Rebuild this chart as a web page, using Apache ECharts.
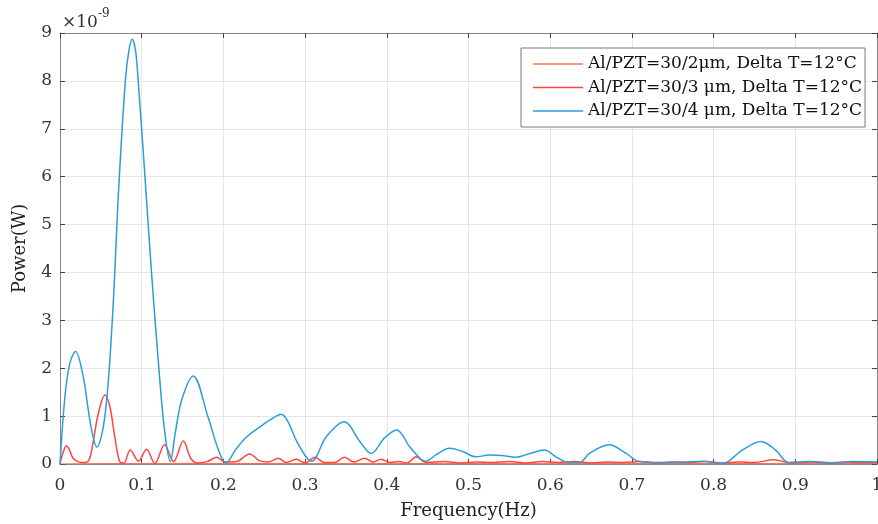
<!DOCTYPE html>
<html>
<head>
<meta charset="utf-8">
<script src="https://cdn.jsdelivr.net/npm/echarts@6/dist/echarts.min.js"></script>
<style>
html,body{margin:0;padding:0;background:#fff;}
#chart{width:878px;height:524px;}
</style>
</head>
<body>
<div id="chart"></div>
<script>
// ---- data (power in units of 1e-9 W) ----
const seriesNames = [
  'Al/PZT=30/2μm, Delta T=12°C',
  'Al/PZT=30/3 μm, Delta T=12°C',
  'Al/PZT=30/4 μm, Delta T=12°C'
];
const xTicks = [0, 0.1, 0.2, 0.3, 0.4, 0.5, 0.6, 0.7, 0.8, 0.9, 1];
const yTicks = [0, 1, 2, 3, 4, 5, 6, 7, 8, 9];

const freq2 = [0, 0.05, 0.1, 0.15, 0.2, 0.25, 0.3, 0.35, 0.4, 0.45, 0.5, 0.6, 0.7, 0.8, 0.9, 1.0];
const power2 = [0, 0.01, 0.008, 0.012, 0.006, 0.01, 0.008, 0.01, 0.006, 0.008, 0.006, 0.008, 0.006, 0.008, 0.006, 0.006];

const freq3 = [
  0, 0.004, 0.008, 0.012, 0.016, 0.022, 0.028, 0.033, 0.037, 0.041,
  0.047, 0.055, 0.061, 0.067, 0.073, 0.078, 0.086, 0.096, 0.106, 0.116,
  0.128, 0.139, 0.151, 0.16, 0.168, 0.18, 0.192, 0.202, 0.216, 0.232,
  0.244, 0.255, 0.267, 0.277, 0.289, 0.3, 0.312, 0.324, 0.336, 0.348,
  0.36, 0.373, 0.383, 0.393, 0.404, 0.415, 0.425, 0.436, 0.448, 0.47,
  0.49, 0.51, 0.53, 0.55, 0.57, 0.59, 0.61, 0.63, 0.65, 0.67,
  0.69, 0.71, 0.73, 0.75, 0.77, 0.79, 0.81, 0.83, 0.85, 0.874,
  0.895, 0.92, 0.94, 0.96, 0.98, 1.0
];
const power3 = [
  0, 0.25, 0.38, 0.28, 0.12, 0.05, 0.03, 0.04, 0.15, 0.5,
  1.06, 1.44, 1.2, 0.57, 0.05, 0.02, 0.29, 0.06, 0.31, 0.01,
  0.4, 0.05, 0.48, 0.12, 0.02, 0.05, 0.14, 0.04, 0.05, 0.21,
  0.07, 0.04, 0.12, 0.03, 0.1, 0.02, 0.14, 0.03, 0.03, 0.14,
  0.04, 0.12, 0.04, 0.1, 0.03, 0.05, 0.02, 0.15, 0.03, 0.05,
  0.02, 0.04, 0.03, 0.05, 0.02, 0.05, 0.03, 0.05, 0.02, 0.04,
  0.03, 0.05, 0.02, 0.04, 0.03, 0.05, 0.02, 0.04, 0.03, 0.09,
  0.02, 0.04, 0.02, 0.04, 0.03, 0.03
];

const freq4 = [
  0, 0.006, 0.012, 0.019, 0.0285, 0.0346, 0.0395, 0.045, 0.055, 0.064,
  0.072, 0.080, 0.0844, 0.0884, 0.0924, 0.0957, 0.104, 0.112, 0.121, 0.128,
  0.135, 0.141, 0.149, 0.163, 0.181, 0.194, 0.203, 0.215, 0.228, 0.245,
  0.257, 0.271, 0.28, 0.289, 0.302, 0.308, 0.326, 0.348, 0.367, 0.381,
  0.397, 0.412, 0.428, 0.442, 0.448, 0.46, 0.477, 0.493, 0.509, 0.526,
  0.54, 0.558, 0.575, 0.593, 0.607, 0.623, 0.636, 0.648, 0.672, 0.693,
  0.709, 0.74, 0.765, 0.786, 0.811, 0.835, 0.858, 0.876, 0.892, 0.917,
  0.95, 0.97, 1.0
];
const power4 = [
  0, 1.4, 2.1, 2.35, 1.82, 1.13, 0.64, 0.35, 1.0, 3.0,
  5.8, 8.0, 8.64, 8.87, 8.64, 8.0, 6.0, 4.0, 2.0, 0.7,
  0.05, 0.64, 1.34, 1.84, 0.99, 0.29, 0.02, 0.3, 0.56, 0.78,
  0.92, 1.04, 0.85, 0.5, 0.13, 0.06, 0.57, 0.88, 0.47, 0.22,
  0.54, 0.71, 0.36, 0.1, 0.06, 0.19, 0.33, 0.26, 0.15, 0.19,
  0.18, 0.14, 0.22, 0.29, 0.15, 0.03, 0.03, 0.22, 0.4, 0.22,
  0.05, 0.03, 0.04, 0.06, 0.01, 0.29, 0.47, 0.29, 0.03, 0.05,
  0.02, 0.05, 0.04
];

const colors = ['#F8734F', '#FF4545', '#2A9ED8'];
const FONT = 'DejaVu Serif';

function pairs(xs, ys) { return xs.map((x, i) => [x, ys[i]]); }

const chart = echarts.init(document.getElementById('chart'), null, {renderer: 'canvas'});
const axisGrey = '#858585';
const option = {
  animation: false,
  backgroundColor: '#ffffff',
  textStyle: {fontFamily: FONT},
  grid: {left: 60, right: 1, top: 33, bottom: 60, containLabel: false, outerBoundsMode: 'none'},
  legend: {
    orient: 'vertical',
    left: 521, top: 48,
    padding: [6, 3, 6, 12],
    itemGap: 3.5,
    itemWidth: 50, itemHeight: 1.5,
    icon: 'rect',
    backgroundColor: '#ffffff',
    borderColor: '#7a7a7a', borderWidth: 1,
    textStyle: {fontFamily: FONT, fontSize: 17, lineHeight: 20, color: '#111'},
    data: seriesNames
  },
  xAxis: [{
    type: 'value', min: 0, max: 1, interval: 0.1,
    name: 'Frequency(Hz)', nameLocation: 'middle', nameGap: 38,
    nameTextStyle: {fontFamily: FONT, fontSize: 18, color: '#222'},
    axisLine: {show: true, onZero: false, lineStyle: {color: axisGrey, width: 1}},
    axisTick: {show: true, inside: true, length: 5, lineStyle: {color: '#444'}},
    axisLabel: {fontFamily: FONT, fontSize: 17, color: '#333', margin: 13,
      formatter: v => { const t = xTicks.find(x => Math.abs(x - v) < 1e-6); return t === undefined ? '' : String(t); }},
    splitLine: {show: true, lineStyle: {color: '#e6e6e6', width: 1}}
  }, {
    type: 'value', min: 0, max: 1, interval: 0.1, position: 'top',
    axisLine: {show: true, onZero: false, lineStyle: {color: axisGrey, width: 1}},
    axisTick: {show: true, inside: true, length: 5, lineStyle: {color: '#444'}},
    axisLabel: {show: false}, splitLine: {show: false}
  }],
  yAxis: [{
    type: 'value', min: 0, max: 9, interval: 1,
    name: 'Power(W)', nameLocation: 'middle', nameGap: 31, nameRotate: 90,
    nameTextStyle: {fontFamily: FONT, fontSize: 18, color: '#222'},
    axisLine: {show: true, onZero: false, lineStyle: {color: axisGrey, width: 1}},
    axisTick: {show: true, inside: true, length: 5, lineStyle: {color: '#444'}},
    axisLabel: {fontFamily: FONT, fontSize: 17, color: '#333', margin: 8,
      formatter: v => { const t = yTicks.find(y => Math.abs(y - v) < 1e-6); return t === undefined ? '' : String(t); }},
    splitLine: {show: true, lineStyle: {color: '#e6e6e6', width: 1}}
  }, {
    type: 'value', min: 0, max: 9, interval: 1, position: 'right',
    axisLine: {show: true, onZero: false, lineStyle: {color: axisGrey, width: 1}},
    axisTick: {show: true, inside: true, length: 5, lineStyle: {color: '#444'}},
    axisLabel: {show: false}, splitLine: {show: false}
  }],
  graphic: [{
    type: 'text', left: 62, top: 8,
    style: {
      text: '{a|×10}{b|-9}',
      rich: {
        a: {fontFamily: FONT, fontSize: 17, fill: '#333', padding: [6, 0, 0, 0]},
        b: {fontFamily: FONT, fontSize: 12, fill: '#333', verticalAlign: 'top', padding: [0, 0, 8, 0]}
      }
    }
  }],
  series: [
    {name: seriesNames[0], type: 'line', data: pairs(freq2, power2), symbol: 'none', smooth: 0.35,
     lineStyle: {color: colors[0], width: 1.2}, itemStyle: {color: colors[0]}, z: 2},
    {name: seriesNames[1], type: 'line', data: pairs(freq3, power3), symbol: 'none', smooth: 0.35,
     lineStyle: {color: colors[1], width: 1.5}, itemStyle: {color: colors[1]}, z: 3},
    {name: seriesNames[2], type: 'line', data: pairs(freq4, power4), symbol: 'none', smooth: 0.35,
     lineStyle: {color: colors[2], width: 1.5}, itemStyle: {color: colors[2]}, z: 4}
  ]
};
chart.setOption(option);
</script>
</body>
</html>
